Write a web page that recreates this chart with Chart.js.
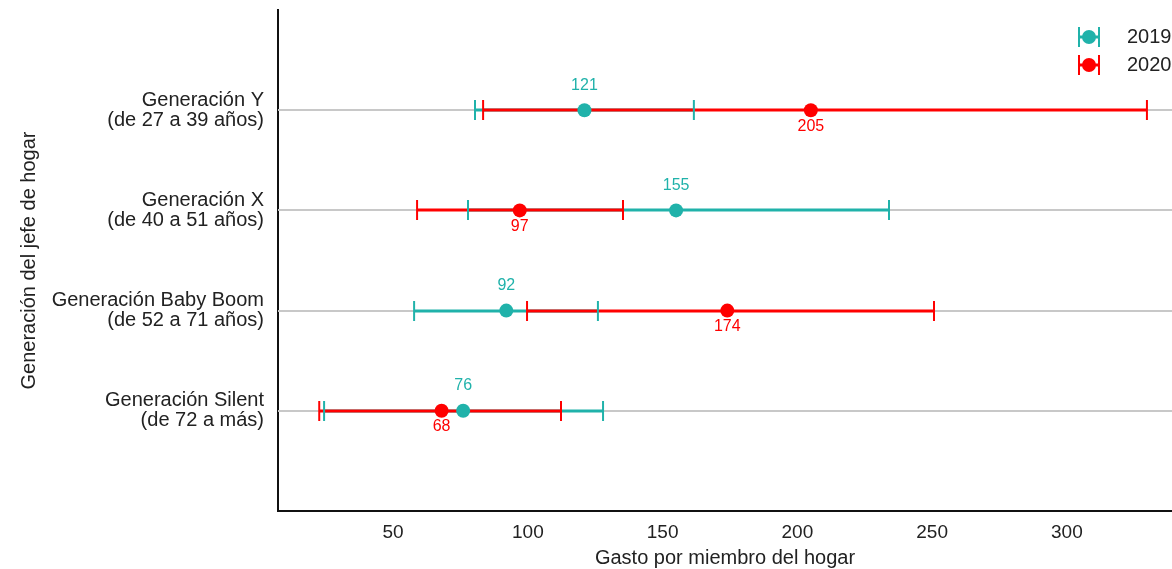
<!DOCTYPE html>
<html><head><meta charset="utf-8">
<script src="https://cdn.jsdelivr.net/npm/chart.js@4"></script>
<style>html,body{margin:0;padding:0;background:#fff;} #wrap{width:1172px;height:569px;position:relative;}</style>
</head><body><div id="wrap"><canvas id="c"></canvas></div>
<script>
const categories = [
  ["Generación Y", "(de 27 a 39 años)"],
  ["Generación X", "(de 40 a 51 años)"],
  ["Generación Baby Boom", "(de 52 a 71 años)"],
  ["Generación Silent", "(de 72 a más)"]
];
const years = ["2019", "2020"];
const mean2019 = [121, 155, 92, 76];
const low2019 = [80.4, 77.8, 57.8, 24.4];
const high2019 = [161.6, 234, 126, 127.9];
const mean2020 = [205, 97, 174, 68];
const low2020 = [83.4, 58.9, 99.7, 22.6];
const high2020 = [329.7, 135.3, 250.7, 112.3];
const xTicks = [50, 100, 150, 200, 250, 300];

const TEAL = '#20b2aa';
const RED = '#ff0000';
const FONT = "'Liberation Sans', Arial, sans-serif";
const TXT = '#222';

const series = [
  {name: years[0], mean: mean2019, low: low2019, high: high2019, color: TEAL, labelPos: 'above'},
  {name: years[1], mean: mean2020, low: low2020, high: high2020, color: RED, labelPos: 'below'}
];

const errPlugin = {
  id: 'err',
  beforeDatasetsDraw(chart) {
    const {ctx, chartArea: a, scales: {x, y}} = chart;
    ctx.save();
    ctx.strokeStyle = '#c8c8c8'; ctx.lineWidth = 2;
    categories.forEach((c, i) => {
      const py = Math.round(y.getPixelForValue(i));
      ctx.beginPath(); ctx.moveTo(a.left, py); ctx.lineTo(a.right, py); ctx.stroke();
    });
    series.forEach(s => {
      ctx.strokeStyle = s.color; ctx.lineWidth = 3;
      s.mean.forEach((m, i) => {
        const py = Math.round(y.getPixelForValue(i));
        ctx.beginPath();
        ctx.moveTo(x.getPixelForValue(s.low[i]), py);
        ctx.lineTo(x.getPixelForValue(s.high[i]), py);
        ctx.stroke();
      });
    });
    series.forEach(s => {
      ctx.strokeStyle = s.color; ctx.lineWidth = 2;
      s.mean.forEach((m, i) => {
        const py = Math.round(y.getPixelForValue(i));
        [s.low[i], s.high[i]].forEach(v => {
          const px = x.getPixelForValue(v);
          ctx.beginPath(); ctx.moveTo(px, py - 10); ctx.lineTo(px, py + 10); ctx.stroke();
        });
      });
    });
    ctx.restore();
  },
  afterDatasetsDraw(chart) {
    const {ctx, chartArea: a, scales: {x, y}} = chart;
    ctx.save();
    ctx.font = '16px ' + FONT;
    ctx.textAlign = 'center'; ctx.textBaseline = 'middle';
    series.forEach(s => {
      ctx.fillStyle = s.color;
      s.mean.forEach((m, i) => {
        const px = x.getPixelForValue(m);
        const py = y.getPixelForValue(i);
        ctx.fillText(String(m), px, s.labelPos === 'above' ? py - 25 : py + 16);
      });
    });
    // legend
    series.forEach((s, k) => {
      const cx = a.right - 83, cy = a.top + 27 + k * 28;
      ctx.strokeStyle = s.color; ctx.fillStyle = s.color;
      ctx.lineWidth = 3;
      ctx.beginPath(); ctx.moveTo(cx - 10, cy); ctx.lineTo(cx + 10, cy); ctx.stroke();
      ctx.lineWidth = 2;
      ctx.beginPath(); ctx.moveTo(cx - 10, cy - 10); ctx.lineTo(cx - 10, cy + 10);
      ctx.moveTo(cx + 10, cy - 10); ctx.lineTo(cx + 10, cy + 10); ctx.stroke();
      ctx.beginPath(); ctx.arc(cx, cy, 7, 0, Math.PI * 2); ctx.fill();
      ctx.fillStyle = TXT; ctx.font = '20px ' + FONT; ctx.textAlign = 'left';
      ctx.fillText(s.name, a.right - 45, cy);
    });
    ctx.restore();
  }
};

new Chart(document.getElementById('c'), {
  type: 'scatter',
  data: {
    datasets: series.map(s => ({
      label: s.name,
      data: s.mean.map((v, i) => ({x: v, y: i})),
      backgroundColor: s.color,
      borderWidth: 0,
      pointRadius: 7,
      pointHoverRadius: 7,
      showLine: false
    }))
  },
  options: {
    responsive: true, maintainAspectRatio: false, animation: false, devicePixelRatio: 1,
    layout: {autoPadding: false, padding: {top: 10, right: 0, left: 0, bottom: 0}},
    plugins: {legend: {display: false}, tooltip: {enabled: false}},
    scales: {
      x: {
        type: 'linear', min: 7.3, max: 339,
        afterBuildTicks: s => { s.ticks = xTicks.map(v => ({value: v})); },
        grid: {display: false, drawTicks: false},
        border: {display: true, color: '#111', width: 2},
        ticks: {font: {family: FONT, size: 19}, color: TXT, padding: 10, maxRotation: 0},
        title: {display: true, text: 'Gasto por miembro del hogar', color: TXT,
          font: {family: FONT, size: 20, lineHeight: 1.1}, padding: {top: 0, bottom: 0}},
        afterFit: s => { s.height = 58; s.paddingLeft = 0; s.paddingRight = 0; }
      },
      y: {
        type: 'linear', min: -1, max: 4, reverse: true,
        afterBuildTicks: s => { s.ticks = categories.map((c, i) => ({value: i})); },
        grid: {display: false, drawTicks: false},
        border: {display: true, color: '#111', width: 2},
        ticks: {font: {family: FONT, size: 20, lineHeight: 1.0}, color: TXT, padding: 14,
          callback: v => categories[v]},
        title: {display: true, text: 'Generación del jefe de hogar', color: TXT,
          font: {family: FONT, size: 20, lineHeight: 1.2}, padding: {top: 17, bottom: 0}},
        afterFit: s => { s.width = 278; s.paddingTop = 0; s.paddingBottom = 0; }
      }
    }
  },
  plugins: [errPlugin]
});
</script>
</body></html>
